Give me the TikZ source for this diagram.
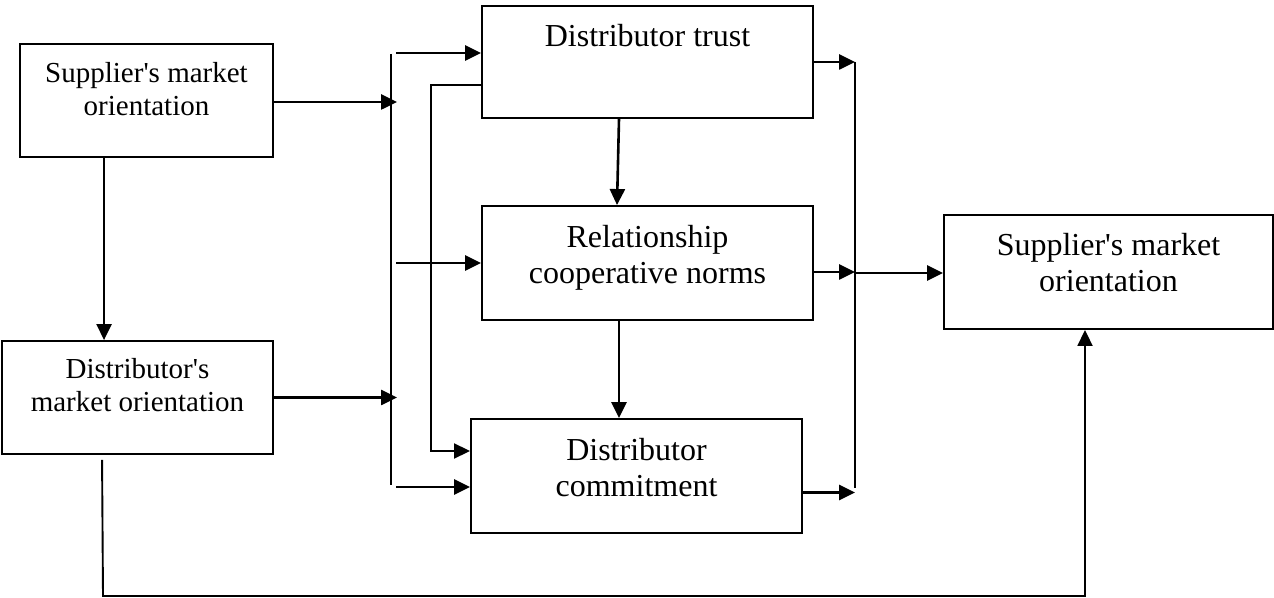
\documentclass[tikz,border=0pt]{standalone}
\usepackage{fontspec}
\setmainfont{Liberation Serif}[Ligatures=TeXOff]
\usetikzlibrary{arrows.meta,calc}
\begin{document}
\begin{tikzpicture}[x=0.5pt,y=-0.5pt,
  box/.style={draw, line width=0.95pt, rectangle, inner sep=0pt},
  lbl/.style={align=center, font=\fontsize{16}{18}\selectfont, inner sep=0pt},
  smalllbl/.style={lbl, font=\fontsize{14.5}{16.8}\selectfont},
  conn/.style={line width=1.3pt},
  thinconn/.style={line width=0.95pt},
  arr/.style={conn, -{Triangle[length=8pt,width=7.5pt]}},
  thinarr/.style={thinconn, -{Triangle[length=8pt,width=7.5pt]}}]
\useasboundingbox (0,0) rectangle (1274,598);

% boxes
\node[box, minimum width=126.5pt, minimum height=56.5pt] (SMO) at (146.5,100.5) {};
\node[box, minimum width=135.5pt, minimum height=56.5pt] (DMO) at (137.5,397.5) {};
\node[box, minimum width=165.5pt, minimum height=56pt]   (DT)  at (647.5,62) {};
\node[box, minimum width=165.5pt, minimum height=57pt]   (RCN) at (647.5,263) {};
\node[box, minimum width=165.5pt, minimum height=57pt]   (DC)  at (636.5,476) {};
\node[box, minimum width=164.5pt, minimum height=57pt]   (RSM) at (1108.5,272) {};

% labels
\node[smalllbl] (SMOt) at (146.5,89) {Supplier's market\\orientation};
\node[smalllbl] (DMOt) at (137.5,385) {Distributor's\\market orientation};
\node[lbl, anchor=base] (DTt) at (647.5,47) {Distributor trust};
\node[lbl] (RCNt) at (647.5,257.5) {Relationship\\cooperative norms};
\node[lbl] (DCt) at (636.5,467.5) {Distributor\\commitment};
\node[lbl] (RSMt) at (1108.5,262.5) {Supplier's market\\orientation};

% left rail
\coordinate (b1top) at (391,54);
\coordinate (b1bot) at (391,485);
\draw[conn] (b1top) -- (b1bot);
\coordinate (smoOut) at ($(SMO.east)+(0,1.5)$);
\draw[arr, shorten >=-3pt] (smoOut) -- (smoOut -| b1top);
\draw[arr, shorten >=-3pt] (DMO.east) -- (DMO.east -| b1top);
\draw[arr] ($(SMO.south west)+(85,0)$) -- ($(DMO.north west)+(103,0)$);

\coordinate (p1) at (396,53);
\coordinate (p2) at (396,263);
\coordinate (p3) at (396,487);
\draw[arr] (p1) -- (p1 -| DT.west);
\draw[arr] (p2) -- (p2 -| RCN.west);
\draw[arr] (p3) -- (p3 -| DC.west);

% trust to commitment, inner route
\coordinate (c1) at (431,85);
\draw[thinarr] (c1 -| DT.west) -- (c1) |- ($(DC.west)+(0,-25)$);

% vertical links between the middle boxes
\draw[arr] ($(DT.south)+(-28.5,0)$) -- ($(RCN.north)+(-30.5,0)$);
\draw[arr] ($(RCN.south)+(-28.5,0)$) -- ($(DC.north)+(-17.5,0)$);

% right rail
\coordinate (r1top) at (855,62);
\coordinate (r1bot) at (855,488);
\draw[conn] (r1top) -- (r1bot);
\draw[arr] (DT.east) -- (r1top);
\coordinate (rcnOut) at ($(RCN.east)+(0,9)$);
\draw[arr] (rcnOut) -- (rcnOut -| r1top);
\coordinate (dcOut) at ($(DC.east)+(0,16.5)$);
\draw[arr] (dcOut) -- (dcOut -| r1top);
\coordinate (rOut) at (855,273);
\draw[arr] (rOut) -- (rOut -| RSM.west);

% bottom route
\coordinate (botL) at (103,596);
\coordinate (botR) at (1085,596);
\draw[thinarr] ($(DMO.south west)+(101,5)$) -- (botL) -- (botR) -- (botR |- RSM.south);
\end{tikzpicture}
\end{document}
